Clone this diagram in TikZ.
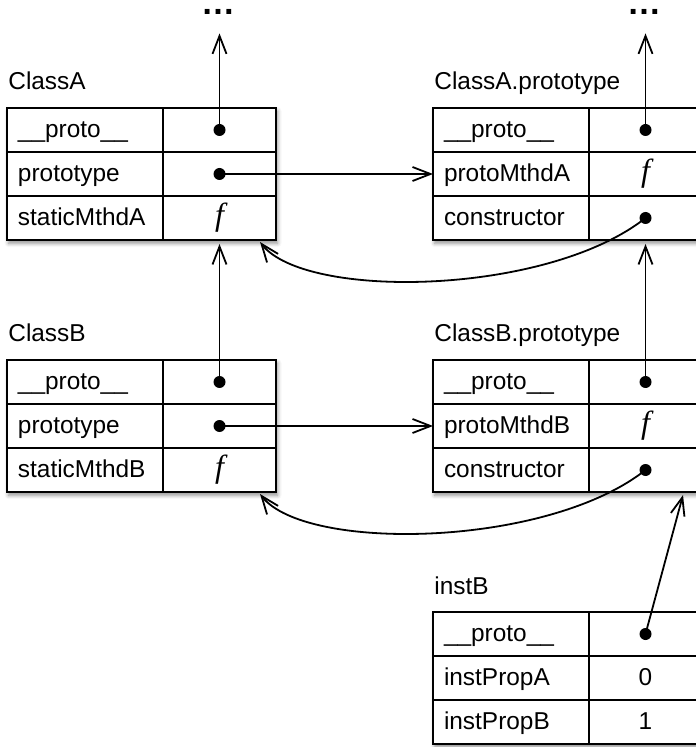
\documentclass[tikz,border=0pt]{standalone}
\usepackage{fontspec}
\setmainfont{Liberation Sans}
\newfontfamily\fnfont{Liberation Serif}
\usetikzlibrary{arrows.meta,positioning,shadows.blur}

\tikzset{
  objfont/.style={font=\fontsize{12.2}{14}\selectfont},
  keycell/.style={draw, line width=1.2pt, objfont, anchor=north west, outer sep=0pt,
    inner xsep=5.5pt, inner ysep=0pt, text width=67pt, align=left,
    minimum height=22pt, text height=10.5pt, text depth=3pt},
  valcell/.style={draw, line width=1.2pt, objfont, outer sep=0pt, inner sep=0pt,
    minimum width=56.5pt, minimum height=22pt, text height=10.5pt, text depth=3pt},
  objtitle/.style={objfont, inner sep=0pt, anchor=base west},
  tblshadow/.style={fill=white, blur shadow={shadow xshift=0.8pt, shadow yshift=-1.6pt,
    shadow blur radius=2pt, shadow opacity=45}},
  ptr/.style={line width=0.9pt, -{Straight Barb[length=9pt,width=7pt]}},
  more/.style={anchor=base, inner sep=0pt, font=\fontsize{17}{17}\selectfont\bfseries},
}

% function value in a cell
\newcommand{\fnval}{{\fnfont\itshape\fontsize{16}{16}\selectfont f}}

% object box: name, x, y, title, key/value rows
\newcommand{\objtable}[5]{%
  \path[tblshadow] (#2,#3) rectangle ++(269,132);
  \node[objtitle] (#1) at (#2+1,#3-18) {#4};
  \foreach \key/\val [count=\i] in {#5} {
    \node[keycell] (#1-k\i) at (#2,#3+44*\i-44) {\key};
    \node[valcell, right=0pt of #1-k\i] (#1-v\i) {\val};
  }%
}

\begin{document}
\begin{tikzpicture}[x=0.5pt,y=-0.5pt]
  \useasboundingbox (0,0) rectangle (695,747);

  \objtable{clsA}{7}{108}{ClassA}{\_\_proto\_\_/{}, prototype/{}, staticMthdA/\fnval}
  \objtable{clsAP}{433}{108}{ClassA.prototype}{\_\_proto\_\_/{}, protoMthdA/\fnval, constructor/{}}
  \objtable{clsB}{7}{360}{ClassB}{\_\_proto\_\_/{}, prototype/{}, staticMthdB/\fnval}
  \objtable{clsBP}{433}{360}{ClassB.prototype}{\_\_proto\_\_/{}, protoMthdB/\fnval, constructor/{}}
  \objtable{instB}{433}{612}{instB}{\_\_proto\_\_/{}, instPropA/0, instPropB/1}

  % more of the chain above
  \node[more] (upA) at (218,15) {…};
  \node[more] (upAP) at (644,15) {…};

  % where the curved pointers end
  \coordinate (clsA-in) at (260,242);
  \coordinate (clsB-in) at (260,494);
  \coordinate (clsBP-in) at (683,495);

  % __proto__ links
  \draw[ptr, shorten >=9pt] (clsA-v1.center) -- (clsA-v1.center |- upA.south);
  \draw[ptr, shorten >=9pt] (clsAP-v1.center) -- (clsAP-v1.center |- upAP.south);
  \draw[ptr, shorten >=2pt] (clsB-v1.center) -- (clsA-v3.south);
  \draw[ptr, shorten >=2pt] (clsBP-v1.center) -- (clsAP-v3.south);
  \draw[ptr] (instB-v1.center) -- (clsBP-in);

  % prototype links
  \draw[ptr] (clsA-v2.center) -- (clsAP-k2.west);
  \draw[ptr] (clsB-v2.center) -- (clsBP-k2.west);

  % constructor links
  \draw[ptr] (clsAP-v3.center) .. controls +(-99,78) and +(45,58) .. (clsA-in);
  \draw[ptr] (clsBP-v3.center) .. controls +(-99,78) and +(45,58) .. (clsB-in);

  % pointer dots
  \foreach \c in {clsA-v1,clsA-v2,clsAP-v1,clsAP-v3,clsB-v1,clsB-v2,clsBP-v1,clsBP-v3,instB-v1}
    \fill (\c.center) circle (3pt);
\end{tikzpicture}
\end{document}
